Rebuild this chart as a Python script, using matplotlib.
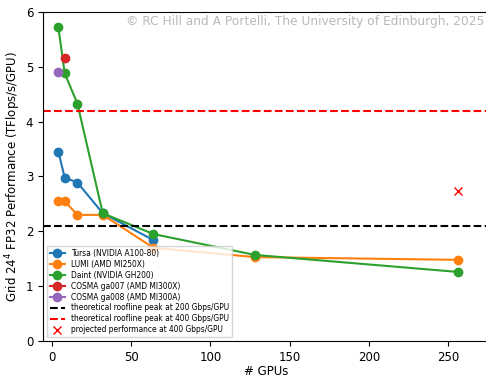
import matplotlib
matplotlib.use("Agg")
import matplotlib.pyplot as plt
import numpy as np

plt.rcParams['font.size'] = 8.5

# GPU counts and measured performance (TFlops/s/GPU)
tursa_gpus = [4, 8, 16, 32, 64]
tursa_perf = [3.45, 2.98, 2.89, 2.33, 1.84]

lumi_gpus = [4, 8, 16, 32, 64, 128, 256]
lumi_perf = [2.55, 2.55, 2.30, 2.30, 1.70, 1.53, 1.48]

daint_gpus = [4, 8, 16, 32, 64, 128, 256]
daint_perf = [5.72, 4.88, 4.33, 2.33, 1.95, 1.57, 1.26]

ga007_gpus = [8]
ga007_perf = [5.17]

ga008_gpus = [4]
ga008_perf = [4.90]

roofline_200 = 2.1
roofline_400 = 4.2

proj_gpus = [256]
proj_perf = [2.74]

fig = plt.figure(figsize=(4.86, 3.77), dpi=100)
ax = fig.add_axes([0.0885, 0.0955, 0.92, 0.8727])

ax.plot(tursa_gpus, tursa_perf, marker='o', label="Tursa (NVIDIA A100-80)")
ax.plot(lumi_gpus, lumi_perf, marker='o', label="LUMI (AMD MI250X)")
ax.plot(daint_gpus, daint_perf, marker='o', label="Daint (NVIDIA GH200)")
ax.plot(ga007_gpus, ga007_perf, marker='o', color='C3', label="COSMA ga007 (AMD MI300X)")
ax.plot(ga008_gpus, ga008_perf, marker='o', color='C4', label="COSMA ga008 (AMD MI300A)")
ax.axhline(roofline_200, color='k', linestyle='--', label="theoretical roofline peak at 200 Gbps/GPU")
ax.axhline(roofline_400, color='r', linestyle='--', label="theoretical roofline peak at 400 Gbps/GPU")
ax.plot(proj_gpus, proj_perf, 'x', color='r', label="projected performance at 400 Gbps/GPU")

ax.set_xlim(-5.7, 276.5)
ax.set_ylim(0, 6)
ax.set_xlabel("# GPUs", labelpad=1)
ax.set_ylabel("Grid 24$^4$ FP32 Performance (TFlops/s/GPU)", labelpad=2)
ax.legend(loc='lower left', fontsize=5.45, labelspacing=0.25)

fig.text(0.996, 0.935, "\u00a9 RC Hill and A Portelli, The University of Edinburgh, 2025",
         ha='right', va='baseline', fontsize=8.8, color='gray', alpha=0.55)

plt.savefig("out.png", dpi=100)
